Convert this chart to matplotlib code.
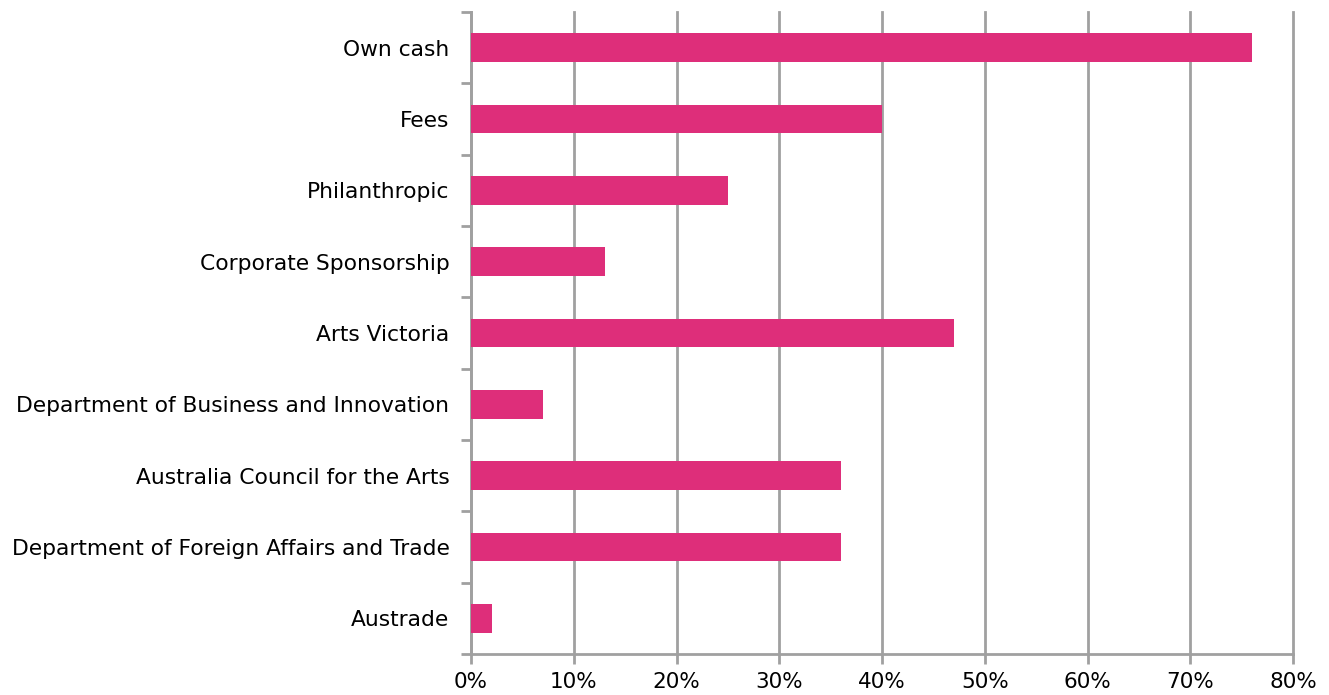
import matplotlib.pyplot as plt
import numpy as np

# Data
categories = ['Own cash', 'Fees', 'Philanthropic', 'Corporate Sponsorship', 'Arts Victoria',
              'Department of Business and Innovation', 'Australia Council for the Arts',
              'Department of Foreign Affairs and Trade', 'Austrade']
values = [76, 40, 25, 13, 47, 7, 36, 36, 2]
x_ticks = [0, 10, 20, 30, 40, 50, 60, 70, 80]

plt.rcParams['font.family'] = ['DejaVu Sans']

fig = plt.figure(figsize=(13.29, 6.95), dpi=100)
ax = fig.add_axes([471 / 1329, 1 - 654 / 695, (1293 - 471) / 1329, (654 - 12) / 695])

n = len(categories)
ypos = np.arange(n)[::-1]
ax.barh(ypos, values, height=0.4, color='#de2e7a', zorder=3)

ax.set_xlim(0, 80)
ax.set_ylim(-0.5, n - 0.5)
ax.set_xticks(x_ticks)
ax.set_xticklabels([f'{v}%' for v in x_ticks], fontsize=15.5)

# category labels at bar centres, ticks at boundaries
ax.set_yticks(ypos)
ax.set_yticklabels(categories, fontsize=15.7)
ax.tick_params(axis='y', length=0, pad=15.5)
ax.set_yticks(np.arange(n + 1) - 0.5, minor=True)
ax.tick_params(axis='y', which='minor', length=7, width=2, color='#a0a0a0')
ax.tick_params(axis='x', length=7, width=2, color='#a0a0a0', pad=6)

ax.grid(axis='x', color='#a0a0a0', linewidth=2, zorder=0)
for gl in ax.get_xgridlines():
    gl.set_clip_on(False)
for s in ['top', 'right']:
    ax.spines[s].set_visible(False)
for s in ['left', 'bottom']:
    ax.spines[s].set_color('#a0a0a0')
    ax.spines[s].set_linewidth(2)

fig.savefig('out.png', dpi=100)
